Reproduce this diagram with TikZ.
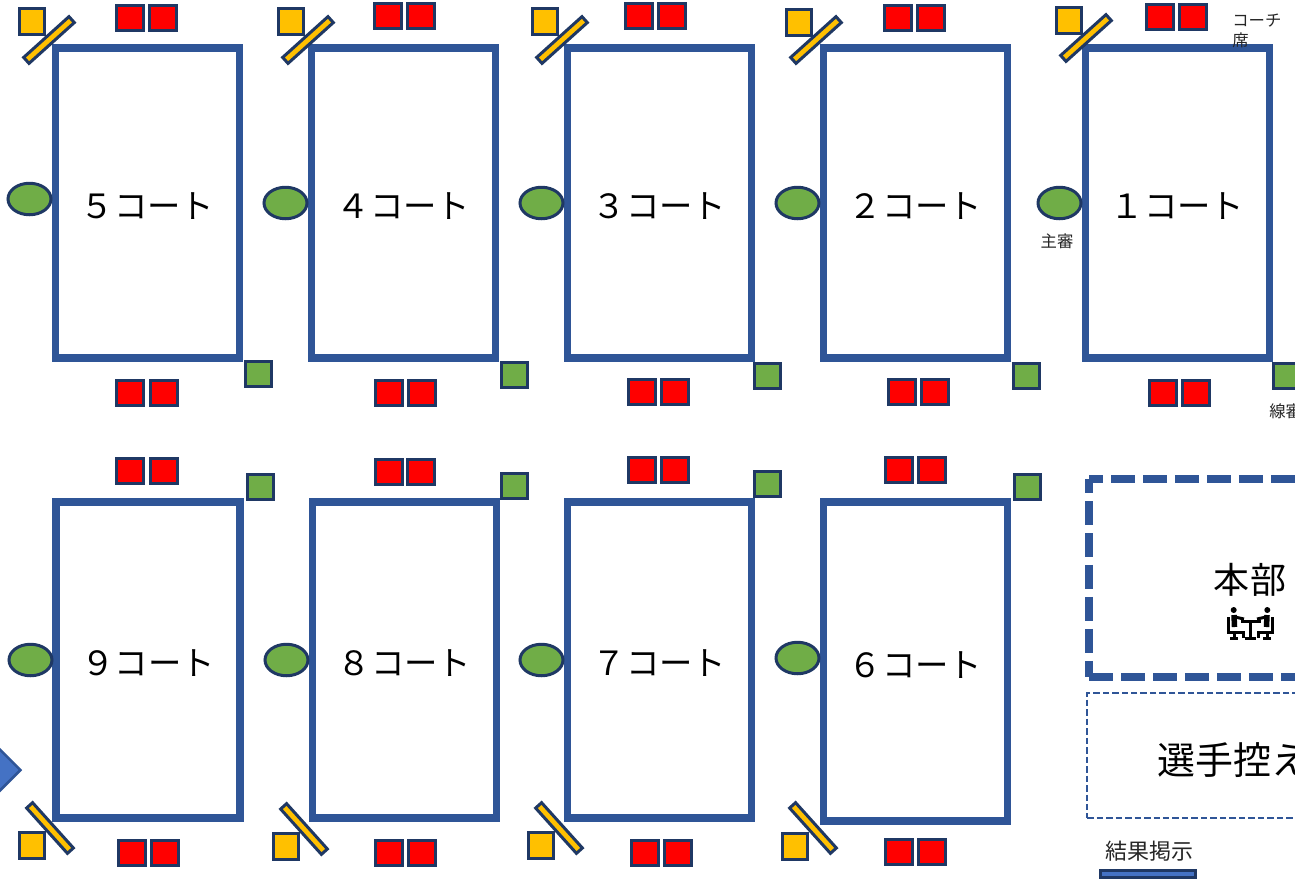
\documentclass[tikz,border=0pt]{standalone}
\usepackage{xcolor}
\usepackage{fontspec}
\setmainfont{Noto Sans CJK JP}
\usetikzlibrary{shapes.geometric}
\definecolor{courtblue}{HTML}{2F5597}
\definecolor{darkline}{HTML}{1F3864}
\definecolor{seatyellow}{HTML}{FFC000}
\definecolor{refgreen}{HTML}{70AD47}
\definecolor{boardblue}{HTML}{4472C4}
\newcommand{\courttext}[1]{\raisebox{-0.07cm}[\height][\depth]{#1}}

\begin{document}
\begin{tikzpicture}[
    x=0.02cm, y=-0.02cm,
    court/.style={draw=courtblue, line width=0.15cm, minimum width=3.68cm, minimum height=6.2cm,
                  inner sep=0pt, font=\fontsize{19}{21}\selectfont},
    courtlow/.style={court, minimum height=6.32cm},
    courtsix/.style={court, minimum height=6.38cm},
    redbox/.style={draw=darkline, fill=red, line width=0.06cm, minimum width=0.54cm,
                   minimum height=0.49cm, inner sep=0pt},
    chairbox/.style={draw=darkline, fill=seatyellow, line width=0.06cm, minimum width=0.5cm,
                     minimum height=0.52cm, inner sep=0pt},
    umpbar/.style={draw=darkline, fill=seatyellow, line width=0.06cm, minimum width=1.22cm,
                   minimum height=0.16cm, inner sep=0pt},
    umpoval/.style={draw=darkline, fill=refgreen, ellipse, line width=0.06cm, minimum width=0.86cm,
                    minimum height=0.63cm, inner sep=0pt},
    linebox/.style={draw=darkline, fill=refgreen, line width=0.06cm, minimum width=0.52cm,
                    minimum height=0.49cm, inner sep=0pt},
    smalllbl/.style={font=\fontsize{9.3}{10.8}\selectfont, inner sep=0pt, text=black!85},
    hqline/.style={draw=courtblue, line width=0.16cm, dash pattern=on 0.48cm off 0.16cm},
    icon/.style={line width=0.06cm, black},
]
\path[use as bounding box, clip] (0,0) rectangle (1295,880);

%% ── Courts, upper row ────────────────────────────────────────────────────
\node[court] (court5) at (147.5, 203) {\courttext{５コート}};
\node[court] (court4) at (403.5, 203) {\courttext{４コート}};
\node[court] (court3) at (659.5, 203) {\courttext{３コート}};
\node[court] (court2) at (915.5, 203) {\courttext{２コート}};
\node[court] (court1) at (1177.5, 203) {\courttext{１コート}};

%% ── Courts, lower row ────────────────────────────────────────────────────
\node[courtlow] (court9) at (148, 660) {\courttext{９コート}};
\node[courtlow] (court8) at (404.5, 660) {\courttext{８コート}};
\node[courtlow] (court7) at (659.5, 660) {\courttext{７コート}};
\node[courtsix] (court6) at (915.5, 661.5) {\courttext{６コート}};

%% ── Coach seats, upper row ───────────────────────────────────────────────
\node[redbox] (r5a) at (130, 18) {};   \node[redbox] (r5b) at (163, 18) {};
\node[redbox] (r4a) at (388, 16) {};   \node[redbox] (r4b) at (421, 16) {};
\node[redbox] (r3a) at (639, 16) {};   \node[redbox] (r3b) at (672, 16) {};
\node[redbox] (r2a) at (898, 18) {};   \node[redbox] (r2b) at (931, 18) {};
\node[redbox] (r1a) at (1160, 17) {};  \node[redbox] (r1b) at (1193, 17) {};
\node[redbox] (r5c) at (130, 393) {};  \node[redbox] (r5d) at (164, 393) {};
\node[redbox] (r4c) at (389, 393) {};  \node[redbox] (r4d) at (422, 393) {};
\node[redbox] (r3c) at (642, 392) {};  \node[redbox] (r3d) at (675, 392) {};
\node[redbox] (r2c) at (902, 392) {};  \node[redbox] (r2d) at (935, 392) {};
\node[redbox] (r1c) at (1163, 393) {}; \node[redbox] (r1d) at (1196, 393) {};

%% ── Coach seats, lower row ───────────────────────────────────────────────
\node[redbox] (r9a) at (130, 471) {};  \node[redbox] (r9b) at (164, 471) {};
\node[redbox] (r8a) at (389, 472) {};  \node[redbox] (r8b) at (421, 472) {};
\node[redbox] (r7a) at (642, 470) {};  \node[redbox] (r7b) at (675, 470) {};
\node[redbox] (r6a) at (899, 470) {};  \node[redbox] (r6b) at (932, 470) {};
\node[redbox] (r9c) at (132, 853) {};  \node[redbox] (r9d) at (165, 853) {};
\node[redbox] (r8c) at (389, 853) {};  \node[redbox] (r8d) at (422, 853) {};
\node[redbox] (r7c) at (645, 853) {};  \node[redbox] (r7d) at (678, 853) {};
\node[redbox] (r6c) at (899, 852) {};  \node[redbox] (r6d) at (932, 852) {};

%% ── Chair and bar at the corners ─────────────────────────────────────────
\node[umpbar, rotate=42] (bar5) at (49, 40) {};    \node[chairbox] (chair5) at (32, 21) {};
\node[umpbar, rotate=42] (bar4) at (308, 40) {};   \node[chairbox] (chair4) at (291, 21) {};
\node[umpbar, rotate=42] (bar3) at (562, 40) {};   \node[chairbox] (chair3) at (545, 21) {};
\node[umpbar, rotate=42] (bar2) at (816, 40) {};   \node[chairbox] (chair2) at (799, 22) {};
\node[umpbar, rotate=42] (bar1) at (1086, 38) {};  \node[chairbox] (chair1) at (1069, 20) {};
\node[umpbar, rotate=-48] (bar9) at (50, 828) {};  \node[chairbox] (chair9) at (32, 845) {};
\node[umpbar, rotate=-48] (bar8) at (304, 829) {}; \node[chairbox] (chair8) at (286, 846) {};
\node[umpbar, rotate=-48] (bar7) at (559, 828) {}; \node[chairbox] (chair7) at (541, 845) {};
\node[umpbar, rotate=-48] (bar6) at (813, 828) {}; \node[chairbox] (chair6) at (795, 846) {};

%% ── Umpires ──────────────────────────────────────────────────────────────
\node[umpoval] (ump5) at (29.5, 199) {};
\node[umpoval] (ump4) at (285.5, 203) {};
\node[umpoval] (ump3) at (541.5, 203) {};
\node[umpoval] (ump2) at (797.5, 203) {};
\node[umpoval] (ump1) at (1059.5, 203) {};
\node[umpoval] (ump9) at (30.5, 660) {};
\node[umpoval] (ump8) at (286.5, 660) {};
\node[umpoval] (ump7) at (541.5, 660) {};
\node[umpoval] (ump6) at (797.5, 658) {};

%% ── Line judges ──────────────────────────────────────────────────────────
\node[linebox] (line5) at (258, 374) {};
\node[linebox] (line4) at (514, 375) {};
\node[linebox] (line3) at (767, 376) {};
\node[linebox] (line2) at (1026, 376) {};
\node[linebox] (line1) at (1286, 376) {};
\node[linebox] (line9) at (260, 487) {};
\node[linebox] (line8) at (514, 486) {};
\node[linebox] (line7) at (767, 484) {};
\node[linebox] (line6) at (1027, 487) {};

%% ── Small labels ─────────────────────────────────────────────────────────
\node[smalllbl, anchor=west] (coachlbl) at (1232, 21) {コーチ};
\node[smalllbl, anchor=west] (seatlbl) at (1232, 40) {席};
\node[smalllbl] (umplbl) at (1057, 241) {主審};
\node[smalllbl, anchor=west] (linelbl) at (1269, 411) {線審};

%% ── Headquarters, waiting area ───────────────────────────────────────────
\node[minimum width=6cm, minimum height=3.96cm, inner sep=0pt, outer sep=0pt,
      anchor=north west] (hq) at (1089, 479) {};
\draw[hqline, dash phase=0.2cm] (hq.north west) -- (hq.north east);
\draw[hqline, dash phase=0.2cm] (hq.north west) -- (hq.south west);
\draw[hqline] (hq.south west) -- (hq.south east);
\node[font=\fontsize{20.5}{24}\selectfont, inner sep=0pt] (hqlbl) at (1250, 580) {本部};
\node[draw=courtblue, line width=0.05cm, dash pattern=on 0.13cm off 0.06cm, minimum width=6cm,
      minimum height=2.5cm, inner sep=0pt, outer sep=0pt, anchor=north west] (wait) at (1087, 693) {};
\node[font=\fontsize{21.6}{24}\selectfont, inner sep=0pt, anchor=west] (waitlbl) at (1157, 760) {選手控え};

%% ── Results board ────────────────────────────────────────────────────────
\node[font=\fontsize{12.5}{15}\selectfont, inner sep=0pt, text=black!85] (boardlbl) at (1149.5, 851) {結果掲示};
\node[draw=darkline, fill=boardblue, line width=0.06cm, minimum width=1.9cm, minimum height=0.15cm,
      inner sep=0pt] (board) at (1148, 874) {};

%% ── Entrance marker ──────────────────────────────────────────────────────
\node[diamond, draw=courtblue, fill=boardblue, line width=0.05cm, minimum width=0.88cm,
      minimum height=0.88cm, inner sep=0pt] (entry) at (-1, 770) {};

%% ── Two people at a table ────────────────────────────────────────────────
\fill (1233.7, 610) circle (3);
\fill (1267.3, 610) circle (3);
\draw[icon] (1241, 621) -- (1261, 621) (1250.5, 621) -- (1250.5, 638) (1245, 638) -- (1256, 638);
\draw[icon, line width=0.11cm] (1234, 615) -- (1234.5, 627);
\draw[icon, line width=0.11cm] (1267, 615) -- (1266.5, 627);
\draw[icon] (1235, 617) -- (1244, 619) (1266, 617) -- (1257, 619);
\draw[icon] (1228.5, 617) -- (1228.5, 632) -- (1243, 632) -- (1243, 638);
\draw[icon] (1272.5, 617) -- (1272.5, 632) -- (1258, 632) -- (1258, 638);
\draw[icon] (1234, 632) -- (1234, 638) (1230, 638.5) -- (1238, 638.5);
\draw[icon] (1267, 632) -- (1267, 638) (1263, 638.5) -- (1271, 638.5);
\end{tikzpicture}
\end{document}
